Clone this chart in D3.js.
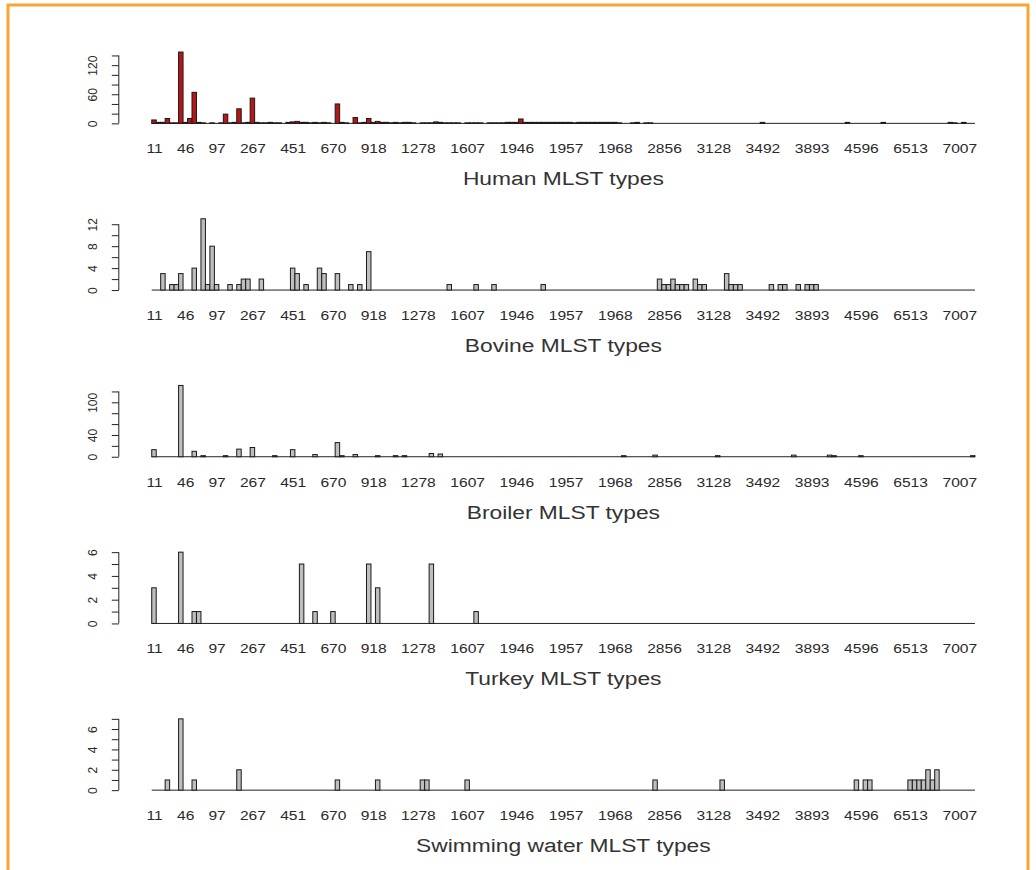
<!DOCTYPE html>
<html>
<head>
<meta charset="utf-8">
<script src="https://cdn.jsdelivr.net/npm/d3@7"></script>
<style>
  body { margin: 0; background: #fff; }
  text { font-family: "Liberation Sans", Arial, sans-serif; fill: #2a2a2a; }
</style>
</head>
<body>
<div id="wrapper"></div>
<script>
// MLST type categories: one bar slot per type, only some are labelled
var nTypes = 184;
var tickIndex = [0, 7, 14, 22, 31, 40, 49, 59, 70, 81, 92, 103, 114, 125, 136, 147, 158, 169, 180];
var tickLabels = ["11", "46", "97", "267", "451", "670", "918", "1278", "1607", "1946",
  "1957", "1968", "2856", "3128", "3492", "3893", "4596", "6513", "7007"];

// counts per source: [type index, number of isolates], zeros left out
var humanCounts = [[0,7],[1,2],[2,2],[3,10],[4,1],[5,1],[6,147],[7,2],[8,10],[9,64],[10,2],[11,1],
  [13,1],[15,1],[16,19],[17,1],[18,2],[19,30],[20,1],[21,2],[22,52],[23,2],[24,1],[25,1],[26,2],
  [27,1],[28,1],[30,2],[31,3],[32,4],[33,2],[34,2],[35,1],[36,2],[37,1],[38,2],[39,1],[41,40],
  [42,2],[43,1],[45,12],[46,1],[47,2],[48,10],[49,2],[50,4],[51,2],[52,2],[53,1],[54,2],[55,1],
  [56,2],[57,2],[58,1],[60,1],[61,1],[62,1],[63,3],[64,2],[65,1],[66,1],[67,1],[68,1],[70,1],
  [71,1],[72,1],[73,1],[75,1],[76,1],[77,1],[78,1],[79,2],[80,2],[81,2],[82,9],[83,2],[84,2],
  [85,2],[86,2],[87,2],[88,2],[89,2],[90,2],[91,2],[92,2],[93,2],[94,1],[95,2],[96,2],[97,2],
  [98,2],[99,2],[100,2],[101,2],[102,2],[103,2],[104,1],[107,1],[108,2],[110,1],[111,1],[136,2],
  [155,2],[163,2],[178,2],[179,1],[181,2]];
var bovineCounts = [[2,3],[4,1],[5,1],[6,3],[9,4],[11,13],[12,1],[13,8],[14,1],[17,1],[19,1],
  [20,2],[21,2],[24,2],[31,4],[32,3],[34,1],[37,4],[38,3],[41,3],[44,1],[46,1],[48,7],[66,1],
  [72,1],[76,1],[87,1],[113,2],[114,1],[115,1],[116,2],[117,1],[118,1],[119,1],[121,2],[122,1],
  [123,1],[128,3],[129,1],[130,1],[131,1],[138,1],[140,1],[141,1],[144,1],[146,1],[147,1],[148,1]];
var broilerCounts = [[0,13],[6,131],[9,10],[11,2],[16,2],[19,14],[22,17],[27,2],[31,13],[36,4],
  [41,26],[42,2],[45,4],[50,2],[54,2],[56,2],[62,6],[64,5],[105,2],[112,3],[126,2],[143,3],
  [151,3],[152,2],[158,2],[183,2]];
var turkeyCounts = [[0,3],[6,6],[9,1],[10,1],[33,5],[36,1],[40,1],[48,5],[50,3],[62,5],[72,1]];
var swimCounts = [[3,1],[6,7],[9,1],[19,2],[41,1],[50,1],[60,1],[61,1],[70,1],[112,1],[127,1],
  [157,1],[159,1],[160,1],[169,1],[170,1],[171,1],[172,1],[173,2],[174,1],[175,2]];

// y ticks and the ones that get a label
var humanTicks = [0, 20, 40, 60, 80, 100, 120, 140], humanLabels = [0, 60, 120];
var bovineTicks = [0, 2, 4, 6, 8, 10, 12], bovineLabels = [0, 4, 8, 12];
var broilerTicks = [0, 20, 40, 60, 80, 100, 120], broilerLabels = [0, 40, 100];
var turkeyTicks = [0, 1, 2, 3, 4, 5, 6], turkeyLabels = [0, 2, 4, 6];
var swimTicks = [0, 1, 2, 3, 4, 5, 6, 7], swimLabels = [0, 2, 4, 6];

var panels = [
  { title: "Human MLST types", counts: humanCounts, ticks: humanTicks, labels: humanLabels, fill: "#b81616" },
  { title: "Bovine MLST types", counts: bovineCounts, ticks: bovineTicks, labels: bovineLabels, fill: "#bebebe" },
  { title: "Broiler MLST types", counts: broilerCounts, ticks: broilerTicks, labels: broilerLabels, fill: "#bebebe" },
  { title: "Turkey MLST types", counts: turkeyCounts, ticks: turkeyTicks, labels: turkeyLabels, fill: "#bebebe" },
  { title: "Swimming water MLST types", counts: swimCounts, ticks: swimTicks, labels: swimLabels, fill: "#bebebe" }
];

// layout (R barplot: usr extends 4% on each side)
var width = 1036, height = 870;
var plotLeft = 118.8, plotRight = 1007.9;
var plotH = 77, firstTop = 49.2, panelStep = 166.7;
var stretch = 1.2; // the source picture is a little wider than tall

var svg = d3.select("#wrapper")
  .append("svg")
  .attr("width", width)
  .attr("height", height);

svg.append("defs").append("clipPath")
  .attr("id", "clip")
  .append("rect")
  .attr("width", width)
  .attr("height", 856);

var root = svg.append("g").attr("clip-path", "url(#clip)");

var x = d3.scaleLinear()
  .domain([-0.04 * nTypes, 1.04 * nTypes])
  .range([plotLeft, plotRight]);

panels.forEach(function (p, i) {
  var top = firstTop + i * panelStep;
  var ymax = d3.max(p.counts, d => d[1]);
  var y = d3.scaleLinear()
    .domain([-0.04 * ymax, 1.04 * ymax])
    .range([top + plotH, top]);
  var g = root.append("g");

  // zero-height bars show as a line along the base
  g.append("line")
    .attr("x1", x(0))
    .attr("x2", x(nTypes))
    .attr("y1", y(0))
    .attr("y2", y(0))
    .attr("stroke", "#222")
    .attr("stroke-width", 1);

  g.append("g")
    .selectAll("rect")
    .data(p.counts)
    .enter()
    .append("rect")
    .attr("x", d => x(d[0]))
    .attr("width", x(1) - x(0))
    .attr("y", d => y(d[1]))
    .attr("height", d => y(0) - y(d[1]))
    .attr("fill", p.fill)
    .attr("stroke", "#1a1a1a")
    .attr("stroke-width", 1);

  // y axis, only from 0 to the last tick
  var yAxis = g.append("g")
    .attr("transform", "translate(" + plotLeft + ",0)")
    .call(d3.axisLeft(y)
      .tickValues(p.ticks)
      .tickSize(7)
      .tickFormat(d => p.labels.indexOf(d) >= 0 ? d : ""));
  yAxis.select(".domain").remove();
  yAxis.append("line")
    .attr("y1", y(0))
    .attr("y2", y(p.ticks[p.ticks.length - 1]))
    .attr("stroke", "#222");
  yAxis.selectAll(".tick line").attr("stroke", "#222");
  yAxis.selectAll(".tick text")
    .attr("x", 0)
    .attr("dy", 0)
    .attr("transform", "translate(-22,0) rotate(-90)")
    .attr("text-anchor", "middle")
    .attr("font-size", 12)
    .attr("font-family", "Liberation Sans, Arial, sans-serif")
    .attr("fill", "#333");

  // category names under the bars
  var xAxis = g.append("g")
    .attr("transform", "translate(0," + y(0) + ")")
    .call(d3.axisBottom(x)
      .tickValues(tickIndex.map(t => t + 0.5))
      .tickSize(0)
      .tickFormat((d, k) => tickLabels[k]));
  xAxis.select(".domain").remove();
  xAxis.selectAll(".tick text")
    .attr("y", 0)
    .attr("dy", 0)
    .attr("transform", "translate(0,30) scale(" + stretch + ",1)")
    .attr("font-size", 13)
    .attr("font-family", "Liberation Sans, Arial, sans-serif")
    .attr("fill", "#2a2a2a");

  g.append("text")
    .attr("transform", "translate(" + ((plotLeft + plotRight) / 2) + "," + (y(0) + 62) + ") scale(" + stretch + ",1)")
    .attr("text-anchor", "middle")
    .style("font-size", "19px")
    .style("fill", "#333")
    .text(p.title);
});

// orange frame round the figure
svg.append("rect")
  .attr("x", 8)
  .attr("y", 5)
  .attr("width", 1020)
  .attr("height", 900)
  .attr("fill", "none")
  .attr("stroke", "#f7a535")
  .attr("stroke-width", 3);
</script>
</body>
</html>
